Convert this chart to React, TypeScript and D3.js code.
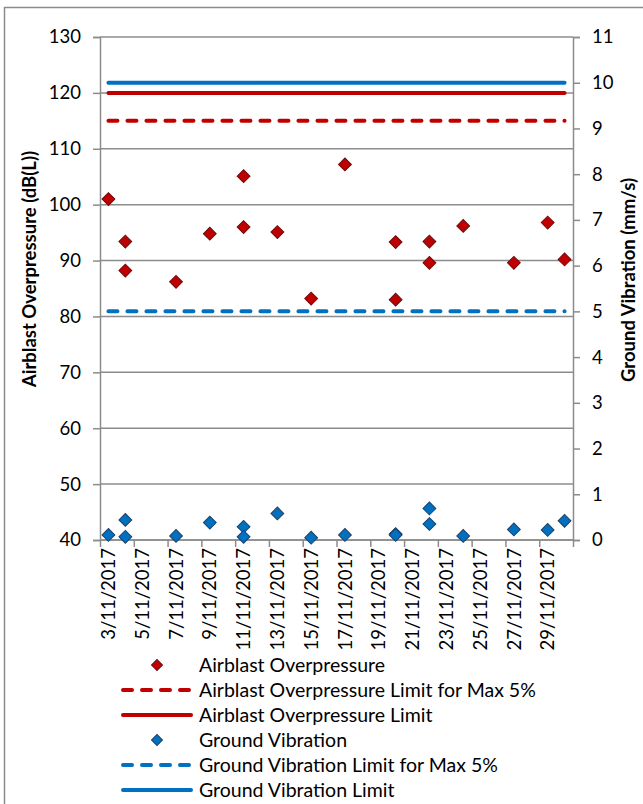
import React, { useEffect, useRef } from 'react';
import * as d3 from 'd3';

// blast dates (day of November 2017) with the readings for each blast
const blastDays = [3, 4, 4, 7, 9, 11, 11, 13, 15, 17, 20, 20, 22, 22, 24, 27, 29, 30];
const airblast = [101.0, 93.4, 88.2, 86.2, 94.8, 105.1, 96.0, 95.1, 83.2, 107.2, 93.3, 83.0, 93.4, 89.6, 96.2, 89.6, 96.8, 90.2];
const vibration = [0.11, 0.44, 0.07, 0.09, 0.38, 0.29, 0.07, 0.58, 0.05, 0.11, 0.13, 0.11, 0.69, 0.35, 0.09, 0.23, 0.22, 0.42];

const airblastLimit5 = 115;
const airblastLimit = 120;
const vibrationLimit5 = 5;
const vibrationLimit = 10;

const leftTicks = [40, 50, 60, 70, 80, 90, 100, 110, 120, 130];
const rightTicks = [0, 1, 2, 3, 4, 5, 6, 7, 8, 9, 10, 11];
const xTickLabels = [
  '3/11/2017', '5/11/2017', '7/11/2017', '9/11/2017', '11/11/2017', '13/11/2017', '15/11/2017',
  '17/11/2017', '19/11/2017', '21/11/2017', '23/11/2017', '25/11/2017', '27/11/2017', '29/11/2017'
];

const legendItems = [
  { label: 'Airblast Overpressure', kind: 'marker', color: '#C00000', stroke: '#6B0C0C' },
  { label: 'Airblast Overpressure Limit for Max 5%', kind: 'dash', color: '#C00000', stroke: '' },
  { label: 'Airblast Overpressure Limit', kind: 'line', color: '#C00000', stroke: '' },
  { label: 'Ground Vibration', kind: 'marker', color: '#0070C0', stroke: '#1F3F66' },
  { label: 'Ground Vibration Limit for Max 5%', kind: 'dash', color: '#0070C0', stroke: '' },
  { label: 'Ground Vibration Limit', kind: 'line', color: '#0070C0', stroke: '' }
];

const FONT = 'Lato, "Open Sans", sans-serif';
const GRID = '#8C8C8C';

export default function App() {
  const svgRef = useRef<SVGSVGElement>(null);

  useEffect(() => {
    if (!svgRef.current) return;
    const svg = d3.select(svgRef.current);
    svg.selectAll('*').remove();

    const width = 643;
    const height = 804;
    const margin = { top: 37, left: 100, right: 70, bottom: 264 };
    const plotRight = width - margin.right;
    const plotBottom = height - margin.bottom;

    svg.append('rect').attr('width', width).attr('height', height).attr('fill', '#fff');
    // chart border (runs off the right / bottom of the picture)
    svg.append('rect')
      .attr('x', 4.5).attr('y', 7.5)
      .attr('width', 700).attr('height', 900)
      .attr('fill', 'none').attr('stroke', GRID).attr('stroke-width', 1.5);

    const day = (d: number) => new Date(2017, 10, d);
    const x = d3.scaleTime()
      .domain([day(3), day(31)])
      .range([margin.left, plotRight]);
    const mid = (d: number) => x(d3.timeHour.offset(day(d), 12));

    const yL = d3.scaleLinear().domain([40, 130]).range([plotBottom, margin.top]);
    const yR = d3.scaleLinear().domain([0, 11]).range([plotBottom, margin.top]);

    // gridlines
    svg.append('g')
      .selectAll('line')
      .data(leftTicks)
      .enter()
      .append('line')
      .attr('x1', margin.left).attr('x2', plotRight)
      .attr('y1', d => yL(d)).attr('y2', d => yL(d))
      .attr('stroke', GRID).attr('stroke-width', 1.5);

    // left axis
    const left = svg.append('g')
      .attr('transform', `translate(${margin.left},0)`)
      .call(d3.axisLeft(yL).tickValues(leftTicks).tickSize(7).tickPadding(12));
    left.selectAll('path, line').attr('stroke', GRID).attr('stroke-width', 1.5);
    left.selectAll('text').style('font-family', FONT).style('font-size', '18.5px').attr('fill', '#000');

    // right axis
    const right = svg.append('g')
      .attr('transform', `translate(${plotRight},0)`)
      .call(d3.axisRight(yR).tickValues(rightTicks).tickSize(7).tickPadding(12));
    right.selectAll('path, line').attr('stroke', GRID).attr('stroke-width', 1.5);
    right.selectAll('text').style('font-family', FONT).style('font-size', '18.5px').attr('fill', '#000');

    // bottom axis: ticks every 2 days, labels centred on the day
    const tickDates = d3.timeDay.every(2)!.range(day(3), day(32));
    const bottom = svg.append('g')
      .attr('transform', `translate(0,${plotBottom})`)
      .call(d3.axisBottom(x).tickValues(tickDates).tickSize(7).tickFormat(() => ''));
    bottom.selectAll('path, line').attr('stroke', GRID).attr('stroke-width', 1.5);
    bottom.select('.domain').attr('d', `M${margin.left},0H${plotRight}`);

    svg.append('g')
      .selectAll('text')
      .data(xTickLabels)
      .enter()
      .append('text')
      .attr('transform', (d, i) => `translate(${mid(3 + 2 * i)},${plotBottom + 8}) rotate(-90)`)
      .attr('text-anchor', 'end')
      .attr('dy', '0.36em')
      .style('font-family', FONT)
      .style('font-size', '18.5px')
      .text(d => d);

    // axis titles
    svg.append('text')
      .attr('transform', `translate(29,269) rotate(-90)`)
      .attr('text-anchor', 'middle')
      .attr('dy', '0.36em')
      .style('font-family', FONT).style('font-size', '18.5px').style('font-weight', 'bold')
      .text('Airblast Overpressure (dB(L))');
    svg.append('text')
      .attr('transform', `translate(628,280) rotate(-90)`)
      .attr('text-anchor', 'middle')
      .attr('dy', '0.36em')
      .style('font-family', FONT).style('font-size', '18.5px').style('font-weight', 'bold')
      .text('Ground Vibration (mm/s)');

    // limit lines
    const limitLine = (yv: number, color: string, dashed: boolean) => {
      svg.append('line')
        .attr('x1', mid(3)).attr('x2', mid(30))
        .attr('y1', yv).attr('y2', yv)
        .attr('stroke', color).attr('stroke-width', 4)
        .attr('stroke-linecap', 'round')
        .attr('stroke-dasharray', dashed ? '9 10' : null);
    };
    limitLine(yL(airblastLimit5), '#C00000', true);
    limitLine(yL(airblastLimit), '#C00000', false);
    limitLine(yR(vibrationLimit5), '#0070C0', true);
    limitLine(yR(vibrationLimit), '#0070C0', false);

    const diamond = d3.symbol().type(d3.symbolSquare).size(82);

    // airblast markers
    svg.append('g')
      .selectAll('path')
      .data(airblast)
      .enter()
      .append('path')
      .attr('d', diamond()!)
      .attr('transform', (d, i) => `translate(${mid(blastDays[i])},${yL(d)}) rotate(45)`)
      .attr('fill', '#C00000').attr('stroke', '#6B0C0C').attr('stroke-width', 1);

    // vibration markers
    svg.append('g')
      .selectAll('path')
      .data(vibration)
      .enter()
      .append('path')
      .attr('d', diamond()!)
      .attr('transform', (d, i) => `translate(${mid(blastDays[i])},${yR(d)}) rotate(45)`)
      .attr('fill', '#0070C0').attr('stroke', '#1F3F66').attr('stroke-width', 1);

    // legend
    const legend = svg.append('g');
    const legendSymbol = d3.symbol().type(d3.symbolSquare).size(60);
    legendItems.forEach((item, i) => {
      const ly = 665 + i * 25;
      if (item.kind === 'marker') {
        legend.append('path')
          .attr('d', legendSymbol()!)
          .attr('transform', `translate(157,${ly}) rotate(45)`)
          .attr('fill', item.color).attr('stroke', item.stroke).attr('stroke-width', 1);
      } else {
        legend.append('line')
          .attr('x1', 123).attr('x2', 191)
          .attr('y1', ly).attr('y2', ly)
          .attr('stroke', item.color).attr('stroke-width', 4)
          .attr('stroke-linecap', 'round')
          .attr('stroke-dasharray', item.kind === 'dash' ? '9 10' : null);
      }
      legend.append('text')
        .attr('x', 199).attr('y', ly)
        .attr('dy', '0.36em')
        .style('font-family', FONT).style('font-size', '19.5px')
        .text(item.label);
    });
  }, []);

  return (
    <svg ref={svgRef} width={643} height={804}
      style={{ position: 'absolute', left: 0, top: 0, display: 'block' }} />
  );
}
